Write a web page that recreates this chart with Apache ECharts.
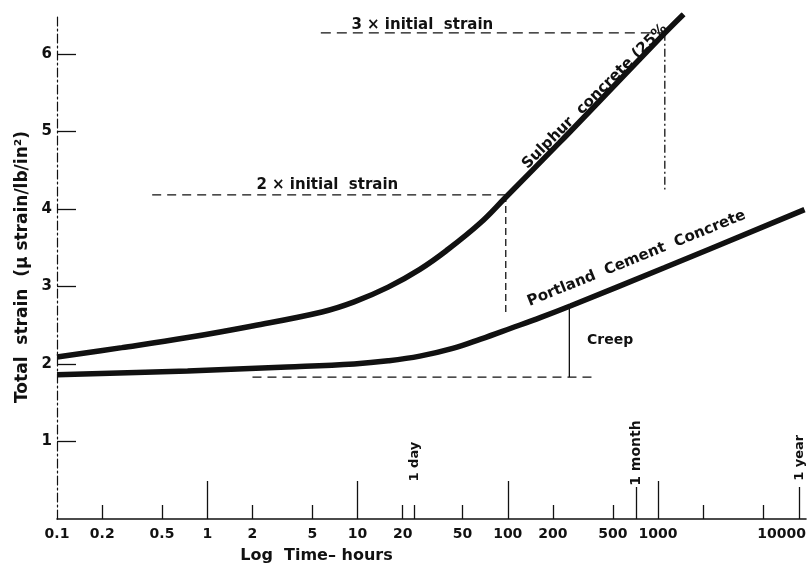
<!DOCTYPE html>
<html>
<head>
<meta charset="utf-8">
<script src="https://cdn.jsdelivr.net/npm/echarts@6/dist/echarts.min.js"></script>
<style>
  html, body { margin: 0; background: #fff; }
  #chart { width: 809px; height: 570px; }
</style>
</head>
<body>
<div id="chart"></div>
<script>
// time in hours (plotted on log scale), strain in micro-strain per lb/in2
const sulphurHours = [0.1, 0.27, 0.74, 2, 5.8, 9.5, 16, 26, 39, 65, 97, 220, 340, 1100, 1480];
const sulphurStrain = [2.09, 2.21, 2.34, 2.49, 2.67, 2.80, 2.99, 3.22, 3.46, 3.81, 4.15, 4.85, 5.23, 6.26, 6.51];

const portlandHours = [0.1, 0.74, 3.4, 9.5, 16, 26, 43, 66, 105, 166, 263, 1100, 9440];
const portlandStrain = [1.86, 1.91, 1.96, 2.00, 2.04, 2.10, 2.20, 2.32, 2.46, 2.60, 2.75, 3.24, 3.99];

// construction lines
const twoXHours = [0.43, 97];
const twoXStrain = [4.18, 4.18];
const twoXDropHours = [97, 97];
const twoXDropStrain = [4.18, 2.63];
const threeXHours = [5.7, 1110];
const threeXStrain = [6.27, 6.27];
const threeXDropHours = [1110, 1110];
const threeXDropStrain = [6.27, 4.25];
const creepBaseHours = [2, 380];
const creepBaseStrain = [1.83, 1.83];
const creepRiseHours = [257, 257];
const creepRiseStrain = [1.83, 2.74];

// axis ticks and labels
const xLabelHours = [0.1, 0.2, 0.5, 1, 2, 5, 10, 20, 50, 100, 200, 500, 1000];
const xEndLabel = '10000';
const minorTickHours = [0.2, 0.5, 2, 5, 20, 24, 50, 200, 500, 2000, 5000];
const majorTickHours = [1, 10, 100, 1000];
const markerTickHours = [720, 8760];
const yTicks = [1, 2, 3, 4, 5, 6];

// text notes: hours, strain, text, rotation, size
const noteHours = [6.3, 27, 380, 720, 480, 24, 720, 8760];
const noteStrain = [4.30, 6.37, 5.45, 3.36, 2.30, 0.74, 0.85, 0.79];
const noteText = ['2 × initial  strain', '3 × initial  strain', 'Sulphur  concrete (25%',
  'Portland  Cement  Concrete', 'Creep', '1 day', '1 month', '1 year'];
const noteRotate = [0, 0, 45, 22, 0, 90, 90, 90];
const noteSize = [15, 15, 15, 15, 14, 13, 14, 13];

const lg = Math.log10;
const xMin = -1, xMax = 3.985;
const font = 'DejaVu Sans';
const ink = '#111';

const pairs = (hs, vs) => hs.map((h, i) => [lg(h), vs[i]]);

function guide(name, hs, vs, type) {
  return {
    name: name, type: 'line', data: pairs(hs, vs), symbol: 'none', silent: true,
    lineStyle: { color: ink, width: 1.3, type: type }, z: 2
  };
}

function tickAxis(hours, len, showLine) {
  return {
    type: 'value', min: xMin, max: xMax, position: 'bottom',
    axisLine: { show: showLine, onZero: false, lineStyle: { color: ink, width: 1.6 } },
    axisTick: { show: true, inside: true, length: len, customValues: hours.map(lg),
      lineStyle: { color: ink, width: 1.3 } },
    axisLabel: { show: false },
    splitLine: { show: false }
  };
}

const chart = echarts.init(document.getElementById('chart'));

const xMain = tickAxis(minorTickHours, 14, true);
xMain.axisLabel = {
  show: true, customValues: xLabelHours.map(lg), margin: 8,
  fontFamily: font, fontWeight: 'bold', fontSize: 14, color: ink,
  formatter: v => String(Number(Math.pow(10, v).toPrecision(3)))
};
xMain.name = 'Log  Time– hours';
xMain.nameLocation = 'middle';
xMain.nameGap = 29;
xMain.nameTextStyle = { fontFamily: font, fontWeight: 'bold', fontSize: 16, color: ink,
  padding: [0, 230, 0, 0] };

const xMajor = tickAxis(majorTickHours, 38, false);
const xMarker = tickAxis(markerTickHours, 32, false);
xMarker.axisLabel = {
  show: true, customValues: [xMax], align: 'right', margin: 8,
  fontFamily: font, fontWeight: 'bold', fontSize: 14, color: ink,
  formatter: () => xEndLabel
};

const option = {
  backgroundColor: '#fff',
  animation: false,
  grid: { left: 57, right: 0, top: 15, bottom: 51 },
  xAxis: [xMain, xMajor, xMarker],
  yAxis: {
    type: 'value', min: 0, max: 6.5,
    name: 'Total  strain  (μ strain/lb/in²)',
    nameLocation: 'middle', nameGap: 22, nameRotate: 90,
    nameTextStyle: { fontFamily: font, fontWeight: 'bold', fontSize: 17, color: ink },
    axisLine: { show: true, onZero: false,
      lineStyle: { color: ink, width: 1.2, type: [9, 3, 2, 3] } },
    axisTick: { show: true, inside: true, length: 19, customValues: yTicks,
      lineStyle: { color: ink, width: 1.3 } },
    axisLabel: { customValues: yTicks, margin: 5, fontFamily: font, fontWeight: 'bold',
      fontSize: 15, color: ink },
    splitLine: { show: false }
  },
  series: [
    {
      name: 'Sulphur concrete (25%)', type: 'line', data: pairs(sulphurHours, sulphurStrain),
      smooth: 0.4, symbol: 'none',
      lineStyle: { color: ink, width: 5.5 }, z: 5
    },
    {
      name: 'Portland Cement Concrete', type: 'line', data: pairs(portlandHours, portlandStrain),
      smooth: 0.4, symbol: 'none',
      lineStyle: { color: ink, width: 5.5 }, z: 5
    },
    guide('2x', twoXHours, twoXStrain, [9, 6]),
    guide('2x drop', twoXDropHours, twoXDropStrain, [7, 4]),
    guide('3x', threeXHours, threeXStrain, [10, 6]),
    guide('3x drop', threeXDropHours, threeXDropStrain, [8, 3, 2, 3]),
    guide('creep base', creepBaseHours, creepBaseStrain, [9, 6]),
    guide('creep rise', creepRiseHours, creepRiseStrain, 'solid'),
    {
      name: 'notes', type: 'scatter', symbolSize: 0, silent: true, z: 6,
      itemStyle: { opacity: 1 },
      data: noteHours.map((h, i) => ({
        value: [lg(h), noteStrain[i]],
        label: { rotate: noteRotate[i], fontSize: noteSize[i] },
        name: noteText[i]
      })),
      label: {
        show: true, position: 'inside', formatter: p => p.name,
        fontFamily: font, fontWeight: 'bold', color: ink, opacity: 1
      }
    }
  ]
};

chart.setOption(option);
</script>
</body>
</html>
